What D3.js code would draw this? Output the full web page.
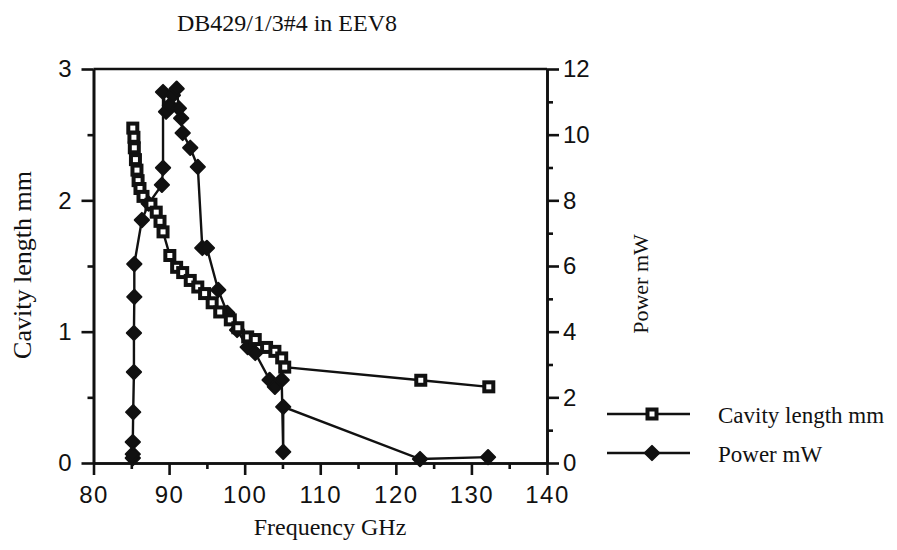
<!DOCTYPE html>
<html>
<head>
<meta charset="utf-8">
<script src="https://cdn.jsdelivr.net/npm/d3@7"></script>
<style>
  body { margin: 0; background: #fff; }
  .serif { font-family: 'Liberation Serif', 'Times New Roman', serif; fill: #111; }
  .axis text { font-family: 'Liberation Sans', Arial, sans-serif; font-size: 24px; fill: #111; }
  .axis path, .axis line { stroke: #111; stroke-width: 2.6; }
</style>
</head>
<body>
<svg id="chart" width="897" height="550"></svg>
<script>
// cavity length (mm) against frequency (GHz)
const cavityFreq = [85.2, 85.35, 85.4, 85.55, 85.75, 85.9, 86.15, 86.55, 87.6, 88.3, 88.8, 89.2,
  90.1, 91.0, 91.8, 92.8, 93.8, 94.7, 95.7, 96.7, 98.1, 99.1, 100.4, 101.4, 102.9, 104.0, 104.9,
  105.3, 123.3, 132.3]
const cavityLength = [2.55, 2.48, 2.40, 2.31, 2.23, 2.15, 2.09, 2.03, 1.97, 1.91, 1.84, 1.76,
  1.58, 1.49, 1.45, 1.39, 1.34, 1.29, 1.22, 1.15, 1.09, 1.03, 0.96, 0.94, 0.88, 0.85, 0.80,
  0.73, 0.63, 0.58]

// output power (mW) against frequency (GHz)
const powerFreq = [85.2, 85.2, 85.2, 85.25, 85.35, 85.35, 85.4, 85.4, 86.4, 87.3, 89.05, 89.2,
  89.2, 89.6, 90.1, 90.5, 91.0, 91.3, 91.6, 91.8, 92.8, 93.8, 94.4, 95.0, 96.5, 97.7, 99.0,
  100.4, 101.4, 103.3, 104.0, 104.9, 105.1, 105.1, 123.2, 132.2]
const powerValue = [0.15, 0.27, 0.64, 1.55, 2.77, 3.96, 5.06, 6.06, 7.40, 7.90, 8.47, 8.99,
  11.3, 10.7, 10.9, 11.2, 11.4, 10.8, 10.5, 10.05, 9.6, 9.02, 6.55, 6.55, 5.27, 4.57, 4.05,
  3.53, 3.35, 2.53, 2.32, 2.53, 0.34, 1.71, 0.12, 0.18]

const xTicks = [80, 90, 100, 110, 120, 130, 140]
const leftTicks = [0, 1, 2, 3]
const rightTicks = [0, 2, 4, 6, 8, 10, 12]

const chartTitle = 'DB429/1/3#4 in EEV8'
const xLabel = 'Frequency GHz'
const leftLabel = 'Cavity length mm'
const rightLabel = 'Power mW'

const plot = { left: 93.5, right: 547, top: 69, bottom: 463 }

const svg = d3.select('#chart')

const x = d3.scaleLinear().domain([80, 140]).range([plot.left, plot.right])
const yLeft = d3.scaleLinear().domain([0, 3]).range([plot.bottom, plot.top])
const yRight = d3.scaleLinear().domain([0, 12]).range([plot.bottom, plot.top])

const cavity = cavityFreq.map((f, i) => ({ f: f, v: cavityLength[i] }))
const power = powerFreq.map((f, i) => ({ f: f, v: powerValue[i] }))

/**
 * Draws an axis with major ticks plus a set of unlabelled minor ticks.
 *
 * @param {Function} axisFn d3.axisLeft / axisRight / axisBottom
 * @param {*} scale The scale for the axis
 * @param {number[]} major The labelled tick values
 * @param {number[]} minor The minor tick values
 * @param {string} transform The translate for the group
 * @returns {*} The selection of the labelled axis group
 */
function drawAxis (axisFn, scale, major, minor, transform) {
  svg.append('g')
    .attr('class', 'axis')
    .attr('transform', transform)
    .call(axisFn(scale).tickValues(minor).tickSize(6).tickSizeOuter(0).tickFormat(''))
  return svg.append('g')
    .attr('class', 'axis')
    .attr('transform', transform)
    .call(axisFn(scale).tickValues(major).tickSize(12).tickSizeOuter(0)
      .tickPadding(6).tickFormat(d3.format('d')))
}

drawAxis(d3.axisBottom, x, xTicks, d3.range(85, 140, 10), 'translate(0,' + plot.bottom + ')')
  .selectAll('text').attr('dy', '0.92em').attr('letter-spacing', '1.5px')
drawAxis(d3.axisLeft, yLeft, leftTicks, [0.5, 1.5, 2.5], 'translate(' + plot.left + ',0)')
  .selectAll('text').attr('dx', '-4')
drawAxis(d3.axisRight, yRight, rightTicks, [1, 3, 5, 7, 9, 11], 'translate(' + plot.right + ',0)')
  .selectAll('text').attr('dx', '-2')

// top border
svg.append('line')
  .attr('x1', plot.left).attr('x2', plot.right)
  .attr('y1', plot.top).attr('y2', plot.top)
  .attr('stroke', '#111').attr('stroke-width', 2.6)

const lineGen = (scale) => d3.line().x((d) => x(d.f)).y((d) => scale(d.v))

svg.append('path')
  .datum(cavity)
  .attr('d', lineGen(yLeft))
  .attr('fill', 'none').attr('stroke', '#111').attr('stroke-width', 2.4)

svg.append('path')
  .datum(power)
  .attr('d', lineGen(yRight))
  .attr('fill', 'none').attr('stroke', '#111').attr('stroke-width', 2.4)

const diamond = d3.symbol().type(d3.symbolDiamond2).size(130)

function drawSquare (sel) {
  sel.append('rect')
    .attr('x', -4.5).attr('y', -4.5)
    .attr('width', 9).attr('height', 9)
    .attr('fill', '#fff').attr('stroke', '#111').attr('stroke-width', 4)
}

function drawDiamond (sel) {
  sel.append('path')
    .attr('d', diamond)
    .attr('fill', '#111').attr('stroke', '#111')
    .attr('stroke-width', 2).attr('stroke-linejoin', 'round')
}

svg.append('g').selectAll('g')
  .data(power)
  .join('g')
  .attr('transform', (d) => 'translate(' + x(d.f) + ',' + yRight(d.v) + ')')
  .call(drawDiamond)

svg.append('g').selectAll('g')
  .data(cavity)
  .join('g')
  .attr('transform', (d) => 'translate(' + x(d.f) + ',' + yLeft(d.v) + ')')
  .call(drawSquare)

// titles
svg.append('text')
  .attr('class', 'serif')
  .attr('x', 287).attr('y', 31)
  .attr('text-anchor', 'middle')
  .attr('font-size', 24)
  .text(chartTitle)

svg.append('text')
  .attr('class', 'serif')
  .attr('x', 330).attr('y', 535)
  .attr('text-anchor', 'middle')
  .attr('font-size', 24)
  .text(xLabel)

svg.append('text')
  .attr('class', 'serif')
  .attr('transform', 'translate(31,265) rotate(-90)')
  .attr('text-anchor', 'middle')
  .attr('font-size', 26)
  .text(leftLabel)

svg.append('text')
  .attr('class', 'serif')
  .attr('transform', 'translate(648,284) rotate(-90)')
  .attr('text-anchor', 'middle')
  .attr('font-size', 22)
  .text(rightLabel)

// legend
const legend = [
  { label: leftLabel, y: 414, draw: drawSquare },
  { label: rightLabel, y: 453, draw: drawDiamond }
]
const lg = svg.append('g').selectAll('g')
  .data(legend)
  .join('g')
  .attr('transform', (d) => 'translate(0,' + d.y + ')')

lg.append('line')
  .attr('x1', 607).attr('x2', 690)
  .attr('stroke', '#111').attr('stroke-width', 2.4)

lg.append('g')
  .attr('transform', 'translate(652,0)')
  .each(function (d) { d.draw(d3.select(this)) })

lg.append('text')
  .attr('class', 'serif')
  .attr('x', 718).attr('y', 9)
  .attr('font-size', 23)
  .text((d) => d.label)
</script>
</body>
</html>
